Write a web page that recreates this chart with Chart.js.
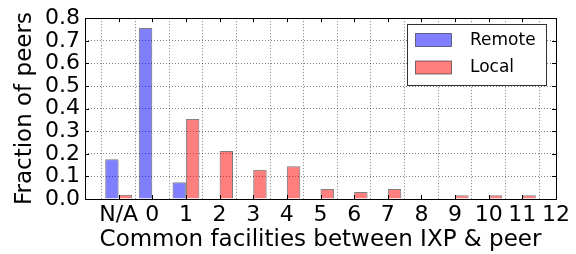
<!DOCTYPE html>
<html>
<head>
<meta charset="utf-8">
<script src="https://cdn.jsdelivr.net/npm/chart.js@4/dist/chart.umd.min.js"></script>
<style>
  body { margin: 0; background: #fff; }
</style>
</head>
<body>
<canvas id="chart" width="576" height="254"></canvas>
<script>
// data
const categories = ['', 'N/A', '0', '1', '2', '3', '4', '5', '6', '7', '8', '9', '10', '11', '12']
const remote = [null, 0.176, 0.757, 0.074, 0, 0, 0, 0, 0, 0, 0, 0, 0, 0, 0]
const local  = [null, 0.019, 0, 0.354, 0.212, 0.129, 0.145, 0.044, 0.031, 0.044, 0, 0.017, 0.017, 0.017, 0]
const yTicks = [0, 0.1, 0.2, 0.3, 0.4, 0.5, 0.6, 0.7, 0.8]

const font = 'DejaVu Sans'

// frame, inward ticks and legend box (matplotlib look)
const framePlugin = {
  id: 'frame',
  afterDraw(chart) {
    const { ctx, chartArea: a, scales } = chart
    ctx.save()
    ctx.strokeStyle = '#000'
    ctx.lineWidth = 1
    ctx.beginPath()
    const tl = 4
    scales.x.ticks.forEach((t, i) => {
      const px = Math.round(scales.x.getPixelForTick(i)) + 0.5
      ctx.moveTo(px, a.bottom); ctx.lineTo(px, a.bottom - tl)
      ctx.moveTo(px, a.top); ctx.lineTo(px, a.top + tl)
    })
    scales.y.ticks.forEach((t, i) => {
      const py = Math.round(scales.y.getPixelForTick(i)) + 0.5
      ctx.moveTo(a.left, py); ctx.lineTo(a.left + tl, py)
      ctx.moveTo(a.right, py); ctx.lineTo(a.right - tl, py)
    })
    ctx.stroke()
    ctx.strokeRect(Math.round(a.left) + 0.5, Math.round(a.top) + 0.5,
      Math.round(a.right - a.left), Math.round(a.bottom - a.top))

    // legend
    const bx = 407.5, by = 24.5, bw = 139, bh = 61
    ctx.fillStyle = '#fff'
    ctx.fillRect(bx, by, bw, bh)
    ctx.strokeStyle = '#333'
    ctx.strokeRect(bx, by, bw, bh)
    ctx.font = '17px "' + font + '"'
    ctx.textBaseline = 'middle'
    ctx.textAlign = 'left'
    chart.data.datasets.forEach((ds, i) => {
      const py = 33.5 + i * 27.5
      ctx.fillStyle = ds.backgroundColor
      ctx.fillRect(415.5, py, 36, 13)
      ctx.strokeStyle = ds.borderColor
      ctx.strokeRect(415.5, py, 36, 13)
      ctx.fillStyle = '#000'
      ctx.fillText(ds.label, 470, py + 7)
    })
    ctx.restore()
  }
}

new Chart(document.getElementById('chart'), {
  type: 'bar',
  data: {
    labels: categories,
    datasets: [
      {
        label: 'Remote',
        data: remote,
        backgroundColor: 'rgba(0, 0, 255, 0.5)',
        borderColor: 'rgba(0, 0, 0, 0.5)',
        borderWidth: 1,
      },
      {
        label: 'Local',
        data: local,
        backgroundColor: 'rgba(255, 0, 0, 0.5)',
        borderColor: 'rgba(0, 0, 0, 0.5)',
        borderWidth: 1,
      },
    ],
  },
  options: {
    responsive: false,
    animation: false,
    categoryPercentage: 0.8,
    barPercentage: 1.0,
    layout: { padding: { top: 16, right: 20, left: 0, bottom: 0 } },
    plugins: {
      legend: { display: false },
      tooltip: { enabled: false },
    },
    scales: {
      x: {
        offset: false,
        afterFit: (s) => { s.height = 55 },
        grid: { color: 'rgba(0,0,0,0.5)', drawTicks: false },
        border: { display: false, dash: [1, 2] },
        ticks: {
          color: '#000',
          font: { family: font, size: 22 },
          padding: 3,
          maxRotation: 0,
          autoSkip: false,
        },
        title: {
          display: true,
          text: 'Common facilities between IXP & peer',
          color: '#000',
          font: { family: font, size: 23 },
          padding: { top: 0, bottom: 0 },
        },
      },
      y: {
        min: 0,
        max: 0.8,
        afterFit: (s) => { s.width = 85 },
        afterBuildTicks: (s) => { s.ticks = yTicks.map(v => ({ value: v })) },
        grid: { color: 'rgba(0,0,0,0.5)', drawTicks: false },
        border: { display: false, dash: [1, 2] },
        ticks: {
          color: '#000',
          font: { family: font, size: 22 },
          padding: 5,
          autoSkip: false,
          callback: (v) => v.toFixed(1),
        },
        title: {
          display: true,
          text: 'Fraction of peers',
          color: '#000',
          font: { family: font, size: 23 },
          padding: { top: 11, bottom: 0 },
        },
      },
    },
  },
  plugins: [framePlugin],
})
</script>
</body>
</html>
